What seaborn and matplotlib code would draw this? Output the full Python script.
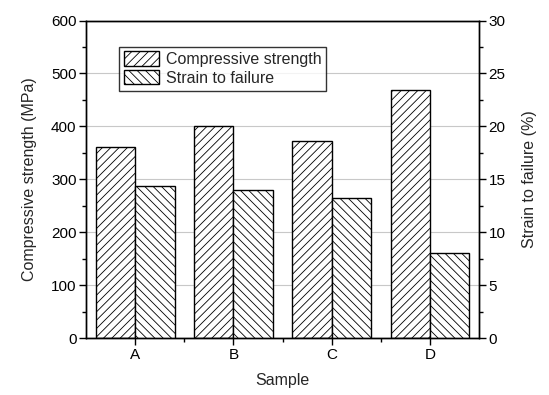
import pandas as pd
import matplotlib.pyplot as plt
import seaborn as sns
from matplotlib.patches import Patch
from matplotlib.ticker import MultipleLocator, FixedLocator

# --- data ---
samples = ['A', 'B', 'C', 'D']
compressive = [361, 400, 373, 469]      # MPa, left axis
strain = [14.4, 14.0, 13.2, 8.05]       # %, right axis
series = ['Compressive strength', 'Strain to failure']
hatches = ['////', '\\\\\\\\']

sns.set_theme(style='ticks')
plt.rcParams['font.family'] = ['Liberation Sans', 'DejaVu Sans']
plt.rcParams['hatch.linewidth'] = 0.6
plt.rcParams['font.size'] = 11

comp_df = pd.DataFrame({'Sample': samples, 'value': compressive, 'series': series[0]})
strain_df = pd.DataFrame({'Sample': samples, 'value': strain, 'series': series[1]})
pal = {s: 'white' for s in series}

fig = plt.figure(figsize=(5.49, 3.95), dpi=100)
ax = fig.add_axes([0.157, 0.144, 0.7155, 0.804])
ax2 = ax.twinx()

sns.barplot(data=comp_df, x='Sample', y='value', hue='series', hue_order=series,
            palette=pal, dodge=True, width=0.8, edgecolor='black', linewidth=1,
            legend=False, ax=ax)
sns.barplot(data=strain_df, x='Sample', y='value', hue='series', hue_order=series,
            palette=pal, dodge=True, width=0.8, edgecolor='black', linewidth=1,
            legend=False, ax=ax2)
for p in ax.patches:
    p.set_hatch(hatches[0])
for p in ax2.patches:
    p.set_hatch(hatches[1])

ax.set_xlim(-0.5, 3.5)
ax.set_ylim(0, 600)
ax2.set_ylim(0, 30)

ax.yaxis.set_major_locator(MultipleLocator(100))
ax.yaxis.set_minor_locator(MultipleLocator(50))
ax2.yaxis.set_major_locator(MultipleLocator(5))
ax2.yaxis.set_minor_locator(MultipleLocator(2.5))
ax.xaxis.set_minor_locator(FixedLocator([0.5, 1.5, 2.5]))

ax.set_axisbelow(True)
ax.yaxis.grid(True, color='#c8c8c8', linewidth=0.8)

for a in (ax, ax2):
    a.tick_params(which='major', direction='out', length=5, width=1, colors='black',
                  labelsize=11, pad=2)
    a.tick_params(which='minor', direction='out', length=3, width=1, colors='black')
    for s in a.spines.values():
        s.set_visible(True)
        s.set_color('black')
        s.set_linewidth(1)

ax.set_xlabel('Sample', fontsize=11.5, labelpad=8)
ax.set_ylabel('Compressive strength (MPa)', fontsize=11.5, labelpad=10)
ax2.set_ylabel('Strain to failure (%)', fontsize=11.5, labelpad=12)

handles = [Patch(facecolor='white', edgecolor='black', hatch=h, label=s)
           for s, h in zip(series, hatches)]
ax.legend(handles=handles, loc='upper left', bbox_to_anchor=(0.084, 0.918),
          frameon=True, fancybox=False, edgecolor='black', fontsize=11.5,
          handlelength=2.2, handleheight=1.0, handletextpad=0.4,
          labelspacing=0.2, borderpad=0.3, borderaxespad=0)

fig.savefig('out.png', dpi=100)
